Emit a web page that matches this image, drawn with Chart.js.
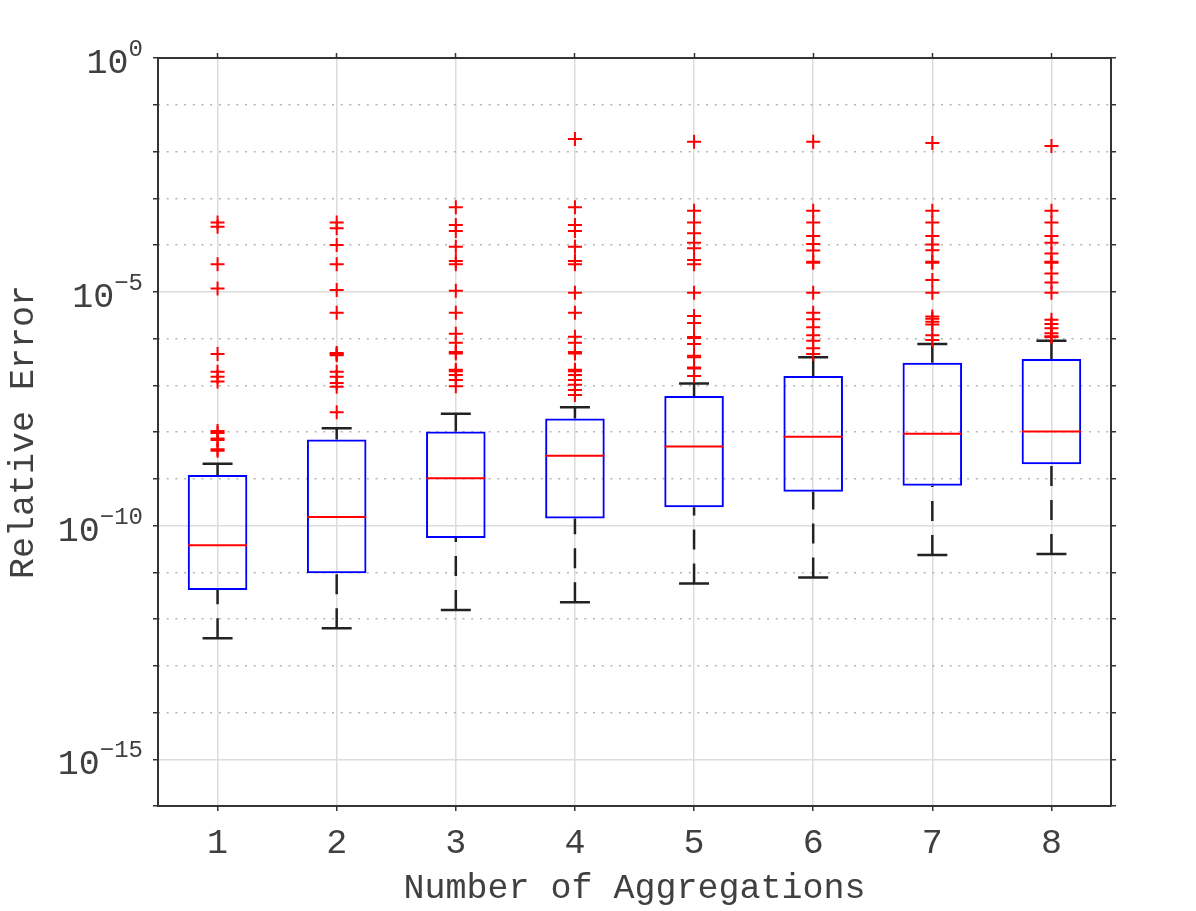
<!DOCTYPE html>
<html lang="en">
  <head>
    <meta charset="UTF-8" />
    <title>Relative Error vs Number of Aggregations</title>
    <script src="https://cdn.jsdelivr.net/npm/chart.js"></script>
    <style>
      html, body { margin: 0; padding: 0; background: #ffffff; }
      #chart-container { width: 1196px; height: 911px; position: relative; }
    </style>
  </head>
  <body>
    <div id="chart-container">
      <canvas id="boxChart"></canvas>
    </div>

    <script>
      // Categories (x axis)
      const CATEGORIES = ["1", "2", "3", "4", "5", "6", "7", "8"];

      // Box statistics, given as log10 of the relative error
      const WHISKER_LO = [-12.41, -12.20, -11.81, -11.64, -11.24, -11.11, -10.63, -10.61];
      const Q1 = [-11.38, -11.02, -10.27, -9.85, -9.61, -9.28, -9.15, -8.69];
      const MEDIAN = [-10.42, -9.82, -8.99, -8.51, -8.31, -8.10, -8.04, -7.99];
      const Q3 = [-8.92, -8.16, -7.99, -7.71, -7.23, -6.80, -6.52, -6.44];
      const WHISKER_HI = [-8.68, -7.92, -7.61, -7.47, -6.96, -6.40, -6.12, -6.05];

      // Outliers (log10), one list per category
      const OUTLIERS_1 = [-3.52, -3.61, -4.41, -4.93, -6.33, -6.71, -6.82, -6.92, -7.98, -8.02, -8.14, -8.17, -8.37, -8.40];
      const OUTLIERS_2 = [-3.52, -3.64, -4.00, -4.41, -4.96, -5.45, -6.31, -6.33, -6.36, -6.71, -6.82, -6.95, -7.03, -7.58];
      const OUTLIERS_3 = [-3.19, -3.57, -3.70, -4.04, -4.34, -4.41, -4.98, -5.45, -5.90, -6.09, -6.29, -6.32, -6.67, -6.70, -6.78, -6.89, -7.02];
      const OUTLIERS_4 = [-1.73, -3.19, -3.57, -3.70, -4.04, -4.34, -4.41, -5.02, -5.45, -5.96, -6.09, -6.29, -6.32, -6.67, -6.70, -6.78, -6.89, -6.99, -7.10, -7.21];
      const OUTLIERS_5 = [-1.79, -3.27, -3.52, -3.75, -3.95, -4.07, -4.32, -4.41, -5.02, -5.52, -5.67, -5.97, -5.99, -6.12, -6.37, -6.40, -6.62, -6.64, -6.80];
      const OUTLIERS_6 = [-1.79, -3.27, -3.52, -3.81, -3.98, -4.12, -4.36, -4.38, -5.02, -5.45, -5.59, -5.76, -5.93, -6.05, -6.21, -6.33];
      const OUTLIERS_7 = [-1.82, -3.27, -3.52, -3.81, -3.99, -4.11, -4.36, -4.38, -4.75, -5.02, -5.53, -5.58, -5.64, -5.70, -5.93, -6.03];
      const OUTLIERS_8 = [-1.88, -3.27, -3.52, -3.81, -3.95, -4.18, -4.36, -4.38, -4.61, -4.80, -5.02, -5.60, -5.69, -5.78, -5.89, -5.95, -5.97];
      const OUTLIERS = [OUTLIERS_1, OUTLIERS_2, OUTLIERS_3, OUTLIERS_4, OUTLIERS_5, OUTLIERS_6, OUTLIERS_7, OUTLIERS_8];

      // Y axis: one tick per decade, labels every 5 decades
      const Y_DECADES = [-16, -15, -14, -13, -12, -11, -10, -9, -8, -7, -6, -5, -4, -3, -2, -1, 0];
      const Y_LABEL_EXPS = [0, -5, -10, -15];

      const FONT = '"Liberation Mono", "Courier New", monospace';
      const TEXT = "#404040";
      const AXIS = "#333333";
      const GRID = "#dcdcdc";
      const DOTS = "#b4b4b4";

      const p10 = e => Math.pow(10, e);

      // Build datasets from the arrays
      const boxData = CATEGORIES.map((c, i) => [p10(Q1[i]), p10(Q3[i])]);

      const whiskerData = [];
      CATEGORIES.forEach((c, i) => {
        whiskerData.push({x: c, y: p10(WHISKER_LO[i])}, {x: c, y: p10(Q1[i])}, {x: c, y: null});
        whiskerData.push({x: c, y: p10(WHISKER_HI[i])}, {x: c, y: p10(Q3[i])}, {x: c, y: null});
      });

      const capData = [];
      CATEGORIES.forEach((c, i) => {
        capData.push({x: c, y: p10(WHISKER_LO[i])}, {x: c, y: p10(WHISKER_HI[i])});
      });

      const medianData = CATEGORIES.map((c, i) => ({x: c, y: p10(MEDIAN[i])}));

      const outlierData = [];
      CATEGORIES.forEach((c, i) => {
        OUTLIERS[i].forEach(e => outlierData.push({x: c, y: p10(e)}));
      });

      const isLabelled = v => Math.round(Math.log10(v)) % 5 === 0;
      const decadeTicks = scale => {
        scale.ticks = Y_DECADES.map(e => ({value: p10(e)}));
      };

      // Draws 10^n labels with a raised exponent
      const expLabels = {
        id: "expLabels",
        afterDraw(chart) {
          const y = chart.scales.y;
          const ctx = chart.ctx;
          ctx.save();
          ctx.fillStyle = TEXT;
          ctx.textAlign = "right";
          ctx.textBaseline = "alphabetic";
          Y_LABEL_EXPS.forEach(e => {
            const py = y.getPixelForValue(p10(e));
            const sup = e === 0 ? "0" : "\u2212" + -e;
            ctx.font = "24px " + FONT;
            const w = ctx.measureText(sup).width;
            ctx.fillText(sup, 143, py - 2);
            ctx.font = "35px " + FONT;
            ctx.fillText("10", 143 - w, py + 15);
          });
          ctx.restore();
        },
      };

      const ctx = document.getElementById("boxChart").getContext("2d");
      new Chart(ctx, {
        type: "bar",
        data: {
          labels: CATEGORIES,
          datasets: [
            {
              type: "line",
              label: "outliers",
              data: outlierData,
              showLine: false,
              pointStyle: "cross",
              pointRadius: 7,
              pointBorderWidth: 2,
              pointBorderColor: "#ff0000",
              order: 0,
            },
            {
              type: "line",
              label: "median",
              data: medianData,
              showLine: false,
              pointStyle: "line",
              pointRadius: 29.5,
              pointBorderWidth: 2,
              pointBorderColor: "#ff0000",
              order: 1,
            },
            {
              type: "line",
              label: "caps",
              data: capData,
              showLine: false,
              pointStyle: "line",
              pointRadius: 15,
              pointBorderWidth: 2.5,
              pointBorderColor: "#222222",
              order: 2,
            },
            {
              type: "line",
              label: "whiskers",
              data: whiskerData,
              borderColor: "#222222",
              borderWidth: 2.5,
              borderDash: [20, 14],
              pointRadius: 0,
              spanGaps: false,
              order: 3,
            },
            {
              type: "bar",
              label: "box",
              data: boxData,
              backgroundColor: "rgba(0,0,0,0)",
              borderColor: "#0000ff",
              borderWidth: 2,
              borderSkipped: false,
              barPercentage: 0.5,
              categoryPercentage: 1.0,
              order: 4,
            },
          ],
        },
        options: {
          responsive: true,
          maintainAspectRatio: false,
          animation: false,
          events: [],
          layout: {padding: {left: 0, right: 77, top: 0, bottom: 0}},
          plugins: {
            legend: {display: false},
            tooltip: {enabled: false},
          },
          scales: {
            x: {
              type: "category",
              position: "bottom",
              offset: true,
              grid: {
                offset: false,
                color: GRID,
                lineWidth: 1.5,
                tickColor: AXIS,
                tickLength: 5,
                tickWidth: 1.5,
              },
              border: {color: AXIS, width: 2},
              ticks: {
                color: TEXT,
                font: {family: FONT, size: 35, lineHeight: 1},
                padding: 15,
                maxRotation: 0,
              },
              title: {
                display: true,
                text: "Number of Aggregations",
                color: TEXT,
                font: {family: FONT, size: 35, lineHeight: 1},
                padding: {top: 0, bottom: 5},
              },
              afterFit: s => { s.height = 105; },
            },
            x2: {
              type: "category",
              position: "top",
              offset: true,
              grid: {
                offset: false,
                drawOnChartArea: false,
                tickColor: AXIS,
                tickLength: 5,
                tickWidth: 1.5,
              },
              border: {color: AXIS, width: 2},
              ticks: {display: false},
              afterFit: s => { s.height = 58; },
            },
            y: {
              type: "logarithmic",
              position: "left",
              min: p10(-16),
              max: 1,
              afterBuildTicks: decadeTicks,
              grid: {
                color: c => (c.tick && isLabelled(c.tick.value) ? GRID : "rgba(0,0,0,0)"),
                lineWidth: 1.5,
                tickColor: AXIS,
                tickLength: 5,
                tickWidth: 1.5,
              },
              border: {color: AXIS, width: 2},
              ticks: {display: false},
              title: {
                display: true,
                text: "Relative Error",
                color: TEXT,
                font: {family: FONT, size: 35, lineHeight: 1},
                padding: {top: 6, bottom: 0},
              },
              afterFit: s => { s.width = 158; },
            },
            y2: {
              type: "logarithmic",
              position: "right",
              min: p10(-16),
              max: 1,
              afterBuildTicks: decadeTicks,
              grid: {
                color: c => (c.tick && !isLabelled(c.tick.value) ? DOTS : "rgba(0,0,0,0)"),
                lineWidth: 1.5,
                tickColor: AXIS,
                tickLength: 5,
                tickWidth: 1.5,
              },
              border: {color: AXIS, width: 2, dash: [2, 6.7]},
              ticks: {display: false},
              afterFit: s => { s.width = 8; },
            },
          },
        },
        plugins: [expLabels],
      });
    </script>
  </body>
</html>
